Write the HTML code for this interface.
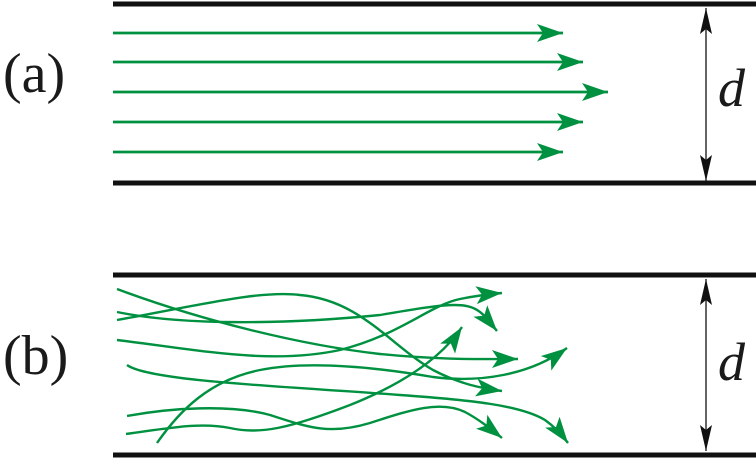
<!DOCTYPE html>
<html><head><meta charset="utf-8"><style>
html,body{margin:0;padding:0;background:#fff;width:756px;height:459px;overflow:hidden}
.t{font-family:"Liberation Serif","DejaVu Serif","Times New Roman",serif;fill:#1a1a1a}
</style></head><body>
<svg width="756" height="459" viewBox="0 0 756 459" xmlns="http://www.w3.org/2000/svg">
<defs>
<marker id="g" markerUnits="userSpaceOnUse" markerWidth="30" markerHeight="20" refX="26" refY="9" orient="auto">
<path d="M0,0 L26,9 L0,18 L6,9 Z" fill="#009140"/>
</marker>
<marker id="k" markerUnits="userSpaceOnUse" markerWidth="30" markerHeight="14" refX="26" refY="6" orient="auto">
<path d="M0,0 L26,6 L0,12 L5,6 Z" fill="#111"/>
</marker>
</defs>
<g stroke="#111" stroke-width="5">
<line x1="113" y1="4" x2="756" y2="4"/>
<line x1="113" y1="183" x2="756" y2="183"/>
<line x1="113" y1="275" x2="756" y2="275"/>
<line x1="113" y1="455" x2="756" y2="455"/>
</g>
<g stroke="#111" stroke-width="1.3" fill="none">
<line x1="706" y1="92" x2="706" y2="8" marker-end="url(#k)"/>
<line x1="706" y1="92" x2="706" y2="181" marker-end="url(#k)"/>
<line x1="706" y1="364" x2="706" y2="279" marker-end="url(#k)"/>
<line x1="706" y1="364" x2="706" y2="451" marker-end="url(#k)"/>
</g>
<g stroke="#009140" stroke-width="2.8" fill="none">
<line x1="113" y1="33" x2="563" y2="33" marker-end="url(#g)"/>
<line x1="113" y1="62" x2="583" y2="62" marker-end="url(#g)"/>
<line x1="113" y1="92" x2="608" y2="92" marker-end="url(#g)"/>
<line x1="113" y1="122" x2="583" y2="122" marker-end="url(#g)"/>
<line x1="113" y1="152" x2="563" y2="152" marker-end="url(#g)"/>
</g>
<g stroke="#009140" stroke-width="2.4" fill="none">
<path d="M117,289 C200,320 300,345 380,354 C440,360 480,359 518,359" marker-end="url(#g)"/>
<path d="M117,320 C200,305 260,290 300,295 C360,300 390,345 433,370 C460,384 480,388 502,391" marker-end="url(#g)"/>
<path d="M117,312 C180,325 280,325 380,315 C440,305 465,300 480,312 C488,318 492,325 497,331" marker-end="url(#g)"/>
<path d="M117,340 C200,350 270,365 340,350 C400,335 430,305 460,299 C475,296 490,294 502,293" marker-end="url(#g)"/>
<path d="M127,365 C150,382 300,387 400,395 C470,400 520,405 545,420 C555,427 562,435 568,443" marker-end="url(#g)"/>
<path d="M127,416 C170,408 230,404 270,415 C310,428 330,435 370,423 C410,410 440,400 465,412 C480,420 492,430 502,438" marker-end="url(#g)"/>
<path d="M126,434 C170,428 200,422 230,428 C260,435 290,428 350,405 C400,385 440,360 462,327" marker-end="url(#g)"/>
<path d="M157,443 C180,410 210,380 260,370 C310,360 380,368 433,377 C480,383 530,375 567,348" marker-end="url(#g)"/>
</g>
<text class="t" x="3" y="92" font-size="56">(a)</text>
<text class="t" x="3" y="374" font-size="56">(b)</text>
<text class="t" x="718" y="106" font-size="54" font-style="italic">d</text>
<text class="t" x="718" y="380" font-size="54" font-style="italic">d</text>
</svg>
</body></html>
